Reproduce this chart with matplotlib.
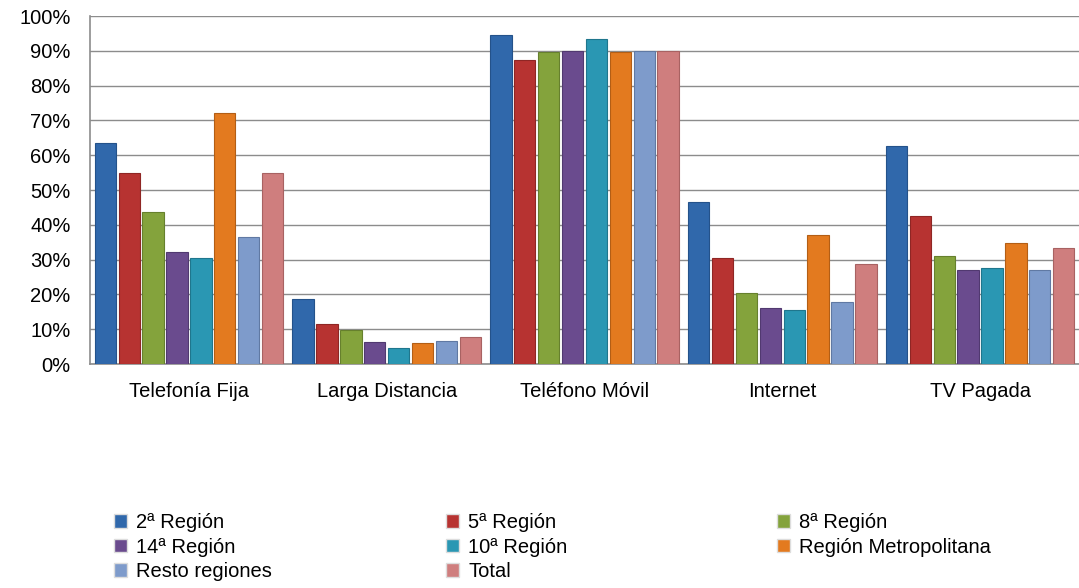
import numpy as np
import matplotlib.pyplot as plt
from matplotlib.patches import Patch

plt.rcParams['font.family'] = ['Liberation Sans', 'DejaVu Sans']

categorias = ["Telefonía Fija", "Larga Distancia", "Teléfono Móvil", "Internet", "TV Pagada"]

series = ["2ª Región", "5ª Región", "8ª Región", "14ª Región", "10ª Región",
          "Región Metropolitana", "Resto regiones", "Total"]

reg2   = [63.5, 18.7, 94.5, 46.6, 62.6]
reg5   = [54.9, 11.5, 87.4, 30.5, 42.5]
reg8   = [43.7,  9.8, 89.7, 20.4, 31.0]
reg14  = [32.2,  6.3, 90.0, 16.1, 27.0]
reg10  = [30.5,  4.6, 93.4, 15.5, 27.6]
metro  = [72.1,  6.0, 89.7, 37.1, 34.8]
resto  = [36.5,  6.6, 90.0, 17.8, 27.0]
total  = [54.9,  7.8, 90.0, 28.7, 33.3]

valores = [reg2, reg5, reg8, reg14, reg10, metro, resto, total]
colores = ["#3068ab", "#b73331", "#84a33c", "#6a4b8e", "#2a97b3",
           "#e37a1f", "#7e9bcb", "#cf7e7e"]
bordes = ["#24528a", "#8f2624", "#66802d", "#513970", "#1f768d",
          "#b35e15", "#6079a3", "#a86262"]

fig = plt.figure(figsize=(10.79, 5.88), dpi=100)
ax = fig.add_axes([90/1079, (588-364)/588, (1079-90)/1079, (364-16)/588])

x = np.arange(len(categorias))
paso = 0.1207
ancho = 0.108
for i, (v, c, b) in enumerate(zip(valores, colores, bordes)):
    ax.bar(x + (i - 3.5)*paso, v, ancho, color=c, edgecolor=b, linewidth=0.8, zorder=3)

ax.set_xlim(-0.5, 4.5)
ax.set_ylim(0, 100)
ax.set_yticks(np.arange(0, 101, 10))
ax.set_yticklabels([f"{t}%" for t in range(0, 101, 10)], fontsize=14.5)
ax.set_xticks(x)
ax.set_xticklabels(categorias, fontsize=14.5)
ax.tick_params(axis="y", length=0, pad=14)
ax.tick_params(axis="x", length=0, pad=13)
ax.grid(axis="y", color="#8c8c8c", linewidth=1, zorder=0)
for s in ["top", "right"]:
    ax.spines[s].set_visible(False)
for s in ["left", "bottom"]:
    ax.spines[s].set_color("#8c8c8c")
    ax.spines[s].set_linewidth(1.2)

# leyenda en tres columnas
columnas = [[0, 3, 6], [1, 4, 7], [2, 5]]
xs = [114, 446, 777]
for col, xc in zip(columnas, xs):
    h = [Patch(facecolor=colores[k], edgecolor="#dddddd") for k in col]
    l = [series[k] for k in col]
    fig.legend(h, l, loc="upper left", bbox_to_anchor=(xc/1079, 1 - 513/588),
               frameon=False, fontsize=14.5, handlelength=0.65, handleheight=0.65,
               handletextpad=0.45, labelspacing=0.28, borderaxespad=0, borderpad=0)

fig.savefig("out.png", dpi=100)
